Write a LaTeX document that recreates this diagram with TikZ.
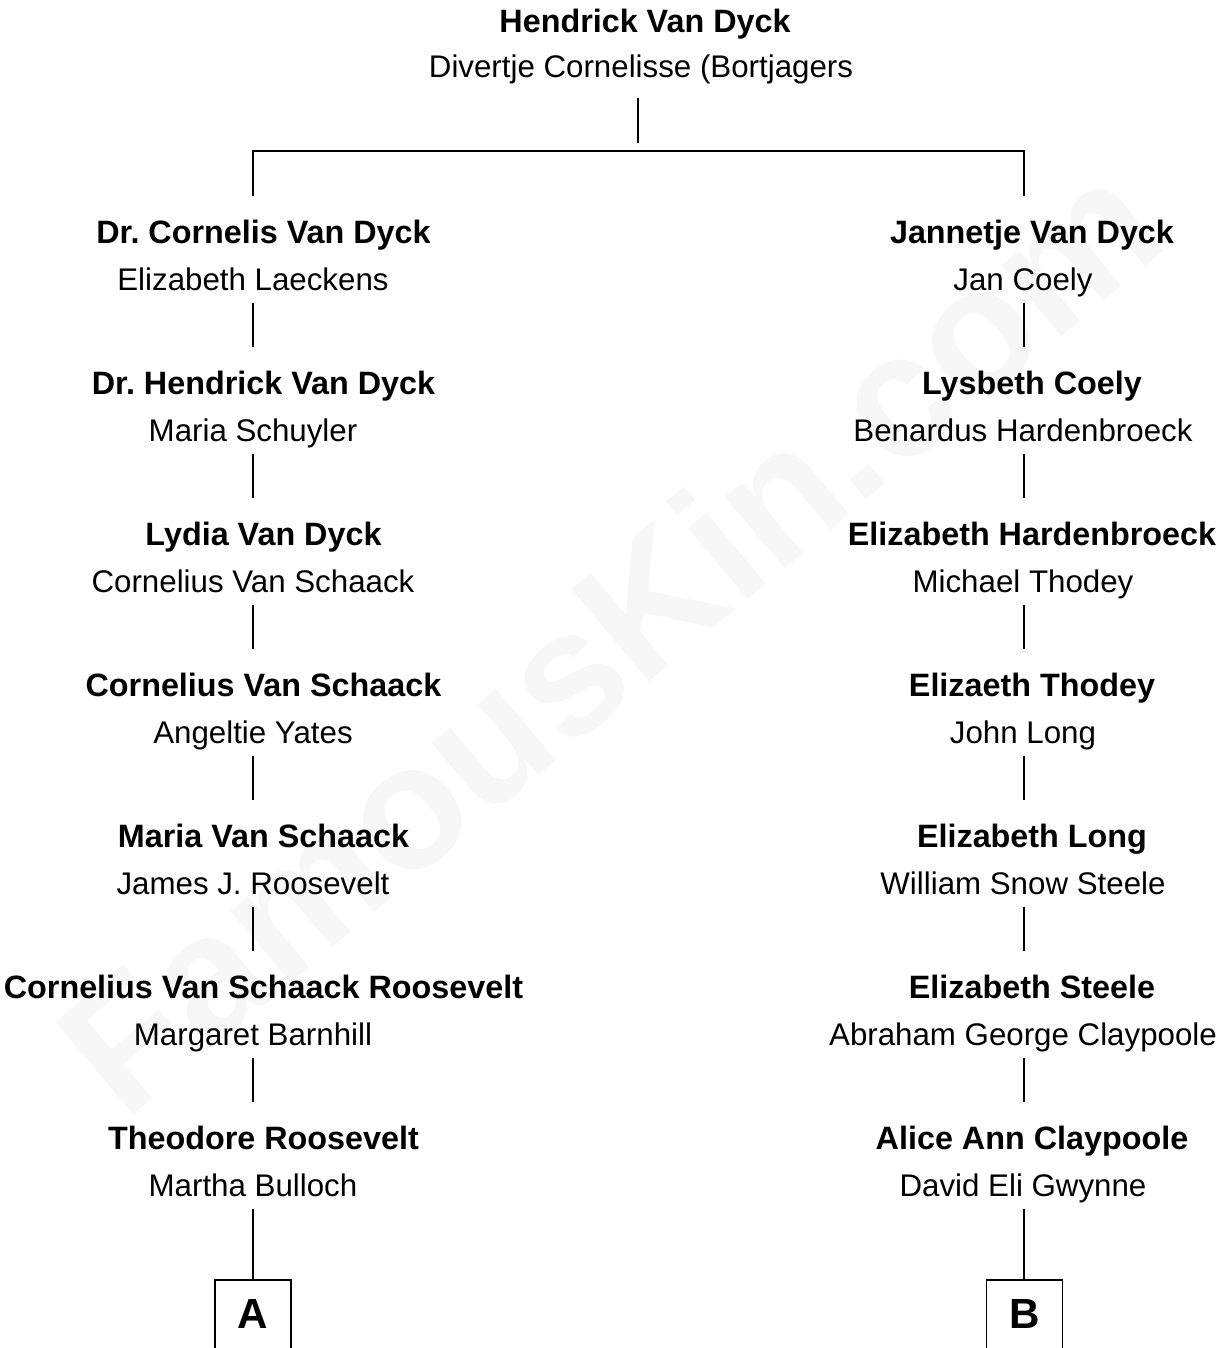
\documentclass[tikz,border=0pt]{standalone}
\usepackage{fontspec}
\setmainfont{Liberation Sans}

\begin{document}
\frenchspacing
\begin{tikzpicture}[
    link/.style={thin, black},
    person/.style={anchor=base, font=\fontsize{9.2}{11}\selectfont\bfseries, inner xsep=0, inner ysep=0, text height=0.46cm, text depth=0.08cm},
    spouse/.style={anchor=base, font=\fontsize{8.9}{11}\selectfont, inner xsep=0, inner ysep=0, text height=0.22cm, text depth=0.12cm},
    endbox/.style={draw, thin, anchor=base, font=\fontsize{12}{14}\selectfont\bfseries, minimum width=0.76cm, inner xsep=0, inner ysep=0.17cm, text height=0.31cm, text depth=0.3cm},
    watermark/.style={font=\fontsize{50}{54}\selectfont\bfseries, text=black!3, rotate=40}
]

    \useasboundingbox (0,0) rectangle (12.28,-13.48);

    % --- watermark ---
    \node[watermark] (wm) at (6.08,-6.35) {FamousKin.com};

    % --- root couple ---
    \node[person, text height=0.25cm] (rootp) at (6.45,-0.33) {Hendrick Van Dyck};
    \node[spouse, text depth=0.19cm] (roots) at (6.41,-0.78) {Divertje Cornelisse (Bortjagers};

    \coordinate (rootfoot) at (6.38,-1.43);
    \coordinate (forkL) at (2.53,-1.51);
    \coordinate (forkR) at (10.24,-1.51);

    % --- left line ---
    \foreach \who/\mate [count=\r from 0] in {
        Dr. Cornelis Van Dyck/Elizabeth Laeckens,
        Dr. Hendrick Van Dyck/Maria Schuyler,
        Lydia Van Dyck/Cornelius Van Schaack,
        Cornelius Van Schaack/Angeltie Yates,
        Maria Van Schaack/James J. Roosevelt,
        Cornelius Van Schaack Roosevelt/Margaret Barnhill,
        Theodore Roosevelt/Martha Bulloch} {
        \node[person] (lp\r) at (2.635,-2.43-1.51*\r) {\who};
        \node[spouse] (ls\r) at (2.53,-2.90-1.51*\r) {\mate};
    }

    % --- right line ---
    \foreach \who/\mate [count=\r from 0] in {
        Jannetje Van Dyck/Jan Coely,
        Lysbeth Coely/Benardus Hardenbroeck,
        Elizabeth Hardenbroeck/Michael Thodey,
        Elizaeth Thodey/John Long,
        Elizabeth Long/William Snow Steele,
        Elizabeth Steele/Abraham George Claypoole,
        Alice Ann Claypoole/David Eli Gwynne} {
        \node[person] (rp\r) at (10.32,-2.43-1.51*\r) {\who};
        \node[spouse] (rs\r) at (10.23,-2.90-1.51*\r) {\mate};
    }

    % --- continuation boxes ---
    \node[endbox] (boxA) at (2.53,-13.28) {A};
    \node[endbox] (boxB) at (10.245,-13.28) {B};

    % --- connectors ---
    \draw[link] (rootfoot |- roots.south) -- (rootfoot);
    \draw[link] (forkL |- lp0.north) -- (forkL) -- (forkR) -- (forkR |- rp0.north);

    \foreach \r in {0,...,5} {
        \pgfmathtruncatemacro\nxt{\r+1}
        \draw[link] (ls\r.south) -- (ls\r.south |- lp\nxt.north);
        \draw[link] (forkR |- rs\r.south) -- (forkR |- rp\nxt.north);
    }
    \draw[link] (ls6.south) -- (ls6.south |- boxA.north);
    \draw[link] (forkR |- rs6.south) -- (forkR |- boxB.north);

\end{tikzpicture}
\end{document}
